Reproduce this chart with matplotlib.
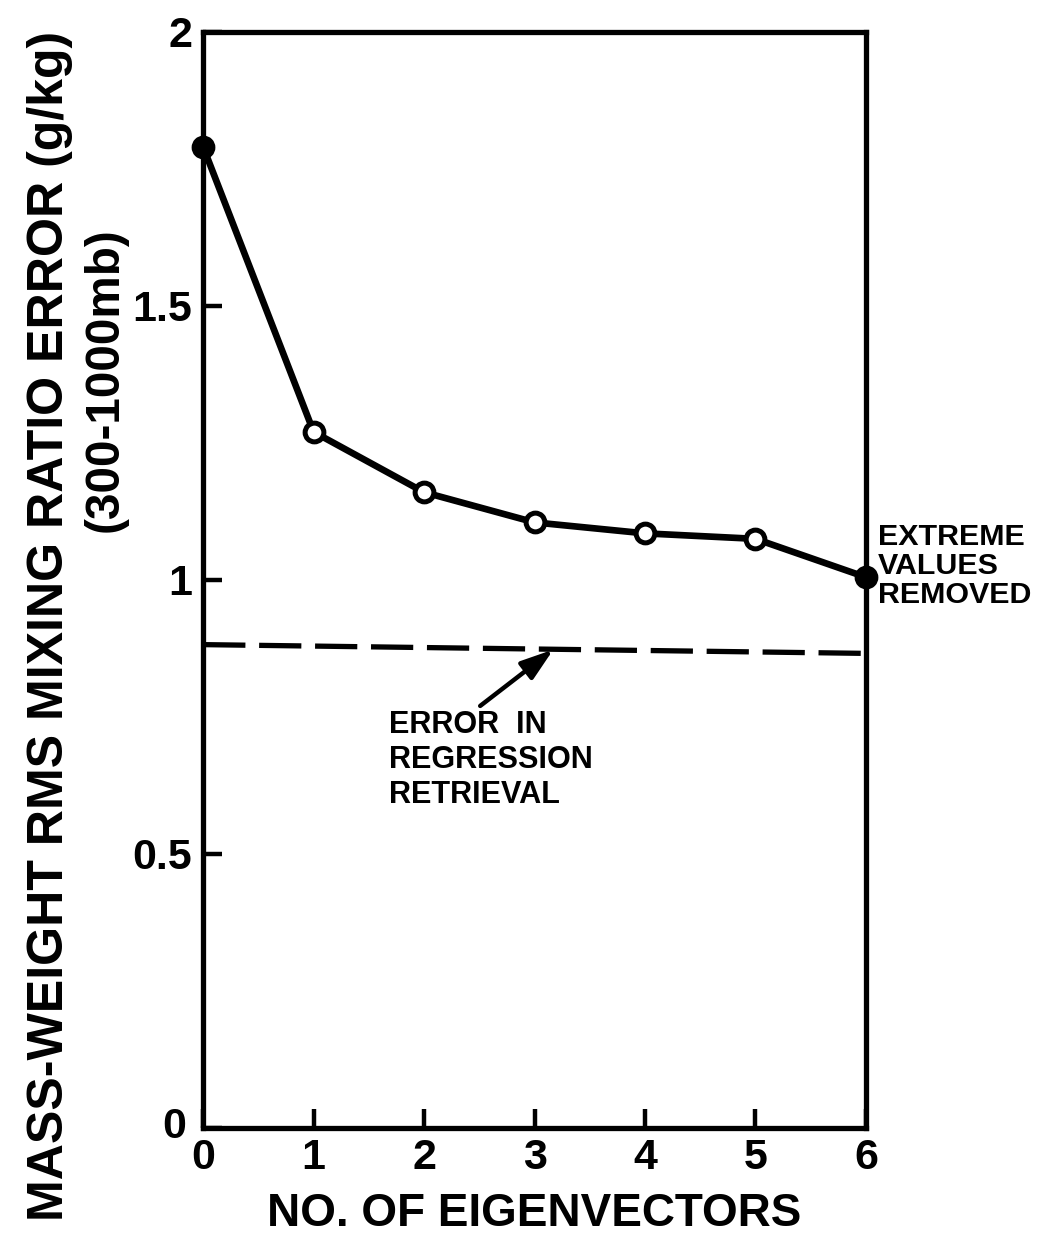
import matplotlib
matplotlib.use("Agg")
import matplotlib.pyplot as plt
from matplotlib.transforms import ScaledTranslation

# Retrieval error versus number of eigenvectors
n_eigen = [0, 1, 2, 3, 4, 5, 6]
rms_error = [1.79, 1.27, 1.16, 1.105, 1.085, 1.075, 1.005]
filled_points = [0, 6]  # endpoints drawn as solid dots

# Regression retrieval reference level (slightly sloped as drawn)
regression_x = [0, 6]
regression_err = [0.882, 0.866]

x_ticks = [0, 1, 2, 3, 4, 5, 6]
x_ticklabels = ["0", "1", "2", "3", "4", "5", "6"]
y_ticks = [0, 0.5, 1, 1.5, 2]
y_ticklabels = ["0", "0.5", "1", "1.5", "2"]

plt.rcParams["font.family"] = ["DejaVu Sans"]
plt.rcParams["font.weight"] = "bold"
narrow = ["Liberation Sans", "DejaVu Sans"]

fig = plt.figure(figsize=(10.42, 12.40), dpi=100)
ax = fig.add_axes([0.195, 0.0903, 0.636, 0.884])

ax.set_xlim(0, 6)
ax.set_ylim(0, 2)

# Dashed regression reference
ax.plot(regression_x, regression_err, color="black", lw=3.8,
        dashes=(8, 2.6), solid_capstyle="butt", zorder=2)

# Main curve
ax.plot(n_eigen, rms_error, color="black", lw=4.8, zorder=3)
for i, (xv, yv) in enumerate(zip(n_eigen, rms_error)):
    face = "black" if i in filled_points else "white"
    ax.plot(xv, yv, marker="o", ms=13.5, mfc=face, mec="black", mew=3.6,
            zorder=4, clip_on=False)

for s in ax.spines.values():
    s.set_linewidth(3.8)

ax.set_xticks(x_ticks)
ax.set_xticklabels(x_ticklabels)
ax.set_yticks(y_ticks)
ax.set_yticklabels(y_ticklabels)
ax.tick_params(direction="in", length=14, width=3.2, labelsize=31)
ax.tick_params(axis="x", pad=7)
ax.tick_params(axis="y", pad=8)
for lab in ax.get_xticklabels() + ax.get_yticklabels():
    lab.set_fontweight("bold")
    lab.set_family(narrow)
# lift the y-axis zero a little so it clears the x-axis zero
zero_lab = ax.get_yticklabels()[0]
zero_lab.set_transform(zero_lab.get_transform()
                       + ScaledTranslation(-0.06, 0.06, fig.dpi_scale_trans))

ax.set_xlabel("NO. OF EIGENVECTORS", fontsize=33, fontweight="bold",
              family=narrow, labelpad=10)

ylab1 = fig.text(0.048, 0.495, "MASS-WEIGHT RMS MIXING RATIO ERROR (g/kg)",
                 rotation=90, ha="center", va="center", fontsize=36,
                 fontweight="bold", family=narrow)
ylab2 = fig.text(0.101, 0.694, "(300-1000mb)", rotation=90, ha="center",
                 va="center", fontsize=34, fontweight="bold", family=narrow)

note_right = ax.text(1.018, 0.513, "EXTREME\nVALUES\nREMOVED",
                     transform=ax.transAxes, ha="left", va="center",
                     fontsize=24, fontweight="bold", linespacing=1.05,
                     family=narrow)

note_reg = ax.annotate(
    "ERROR  IN\nREGRESSION\nRETRIEVAL", xy=(3.17, 0.873),
    xytext=(1.68, 0.762), ha="left", va="top", fontsize=24,
    fontweight="bold", linespacing=1.2, family=narrow,
    arrowprops=dict(arrowstyle="-|>,head_length=0.9,head_width=0.3",
                    color="black", lw=3.2, shrinkA=2, shrinkB=0,
                    relpos=(0.42, 1.0)))

# scale the lettering so each block spans its intended length (pixels)
renderer = fig.canvas.get_renderer()
for txt, span, vertical in [(ylab1, 1190, True), (ylab2, 305, True),
                            (note_right, 154, False), (note_reg, 204, False)]:
    bb = txt.get_window_extent(renderer)
    cur = bb.height if vertical else bb.width
    txt.set_fontsize(txt.get_fontsize() * span / cur)

fig.savefig("out.png", dpi=100, facecolor="white")
